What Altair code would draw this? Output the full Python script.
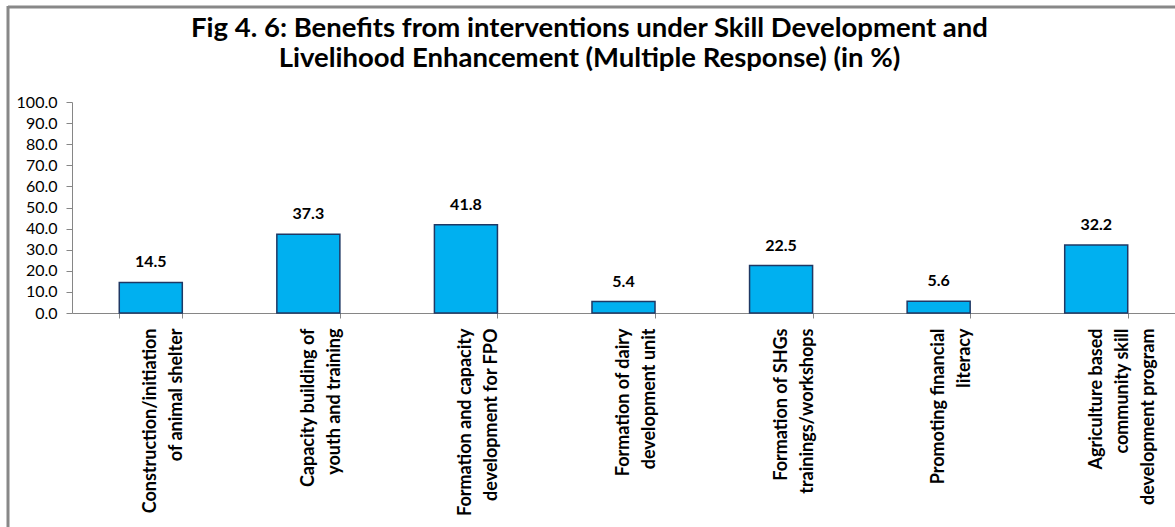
import altair as alt
import pandas as pd

# ---- data ----
categories = [
    "Construction/initiation\nof animal shelter",
    "Capacity building of\nyouth and training",
    "Formation and capacity\ndevelopment for FPO",
    "Formation of dairy\ndevelopment unit",
    "Formation of SHGs\ntrainings/workshops",
    "Promoting financial\nliteracy",
    "Agriculture based\ncommunity skill\ndevelopment program",
]
values = [14.5, 37.3, 41.8, 5.4, 22.5, 5.6, 32.2]
y_ticks = [0, 10, 20, 30, 40, 50, 60, 70, 80, 90, 100]
title_lines = [
    "Fig 4. 6: Benefits from interventions under Skill Development and",
    "Livelihood Enhancement (Multiple Response) (in %)",
]

df = pd.DataFrame({"category": categories, "value": values})
one = pd.DataFrame({"a": [0]})

W, H = 1103, 211
FONT = "Lato"
AXIS_GRAY = "#868686"

x_enc = alt.X(
    "category:N",
    sort=categories,
    scale=alt.Scale(paddingInner=0.6, paddingOuter=0.3),
    axis=alt.Axis(
        title=None,
        labelAngle=-90,
        labelExpr="split(datum.label, '\\n')",
        labelFont=FONT,
        labelFontWeight="bold",
        labelFontSize=18,
        labelLineHeight=26,
        labelColor="black",
        labelLimit=400,
        labelPadding=10,
        labelOverlap=False,
        tickBand="extent",
        tickSize=5,
        tickColor=AXIS_GRAY,
        domainColor=AXIS_GRAY,
    ),
)
y_enc = alt.Y(
    "value:Q",
    scale=alt.Scale(domain=[0, 100], nice=False),
    axis=alt.Axis(
        title=None,
        values=y_ticks,
        format=".1f",
        grid=False,
        labelFont=FONT,
        labelFontSize=16,
        labelColor="black",
        labelPadding=9,
        labelOverlap=False,
        labelFlush=False,
        tickSize=6,
        tickColor=AXIS_GRAY,
        domainColor=AXIS_GRAY,
    ),
)

base = alt.Chart(df).encode(x=x_enc, y=y_enc)

bars = base.mark_bar(color="#00B0F0", stroke="#1F3864", strokeWidth=1.5)

labels = base.mark_text(
    dy=-20, font=FONT, fontWeight="bold", fontSize=16, color="black", baseline="middle"
).encode(text=alt.Text("value:Q", format=".1f"))

border_top = alt.Chart(one).mark_rule(color="#888888", strokeWidth=3).encode(
    x=alt.value(-64), x2=alt.value(W + 10), y=alt.value(-95)
)
border_left = alt.Chart(one).mark_rule(color="#888888", strokeWidth=3).encode(
    x=alt.value(-64), y=alt.value(-96), y2=alt.value(H + 230)
)

chart = (
    alt.layer(bars, labels, border_top, border_left)
    .properties(
        width=W,
        height=H,
        padding={"left": 72, "top": 102, "right": 0, "bottom": 214},
        autosize=alt.AutoSizeParams(type="none"),
        title=alt.TitleParams(
            title_lines,
            font=FONT,
            fontSize=27.5,
            fontWeight="bold",
            color="black",
            anchor="middle",
            dx=-34,
            offset=-68,
            lineHeight=30,
        ),
        background="white",
    )
    .configure_view(stroke=None)
)

chart.save("out.html", embed_options={"renderer": "svg", "actions": False})
